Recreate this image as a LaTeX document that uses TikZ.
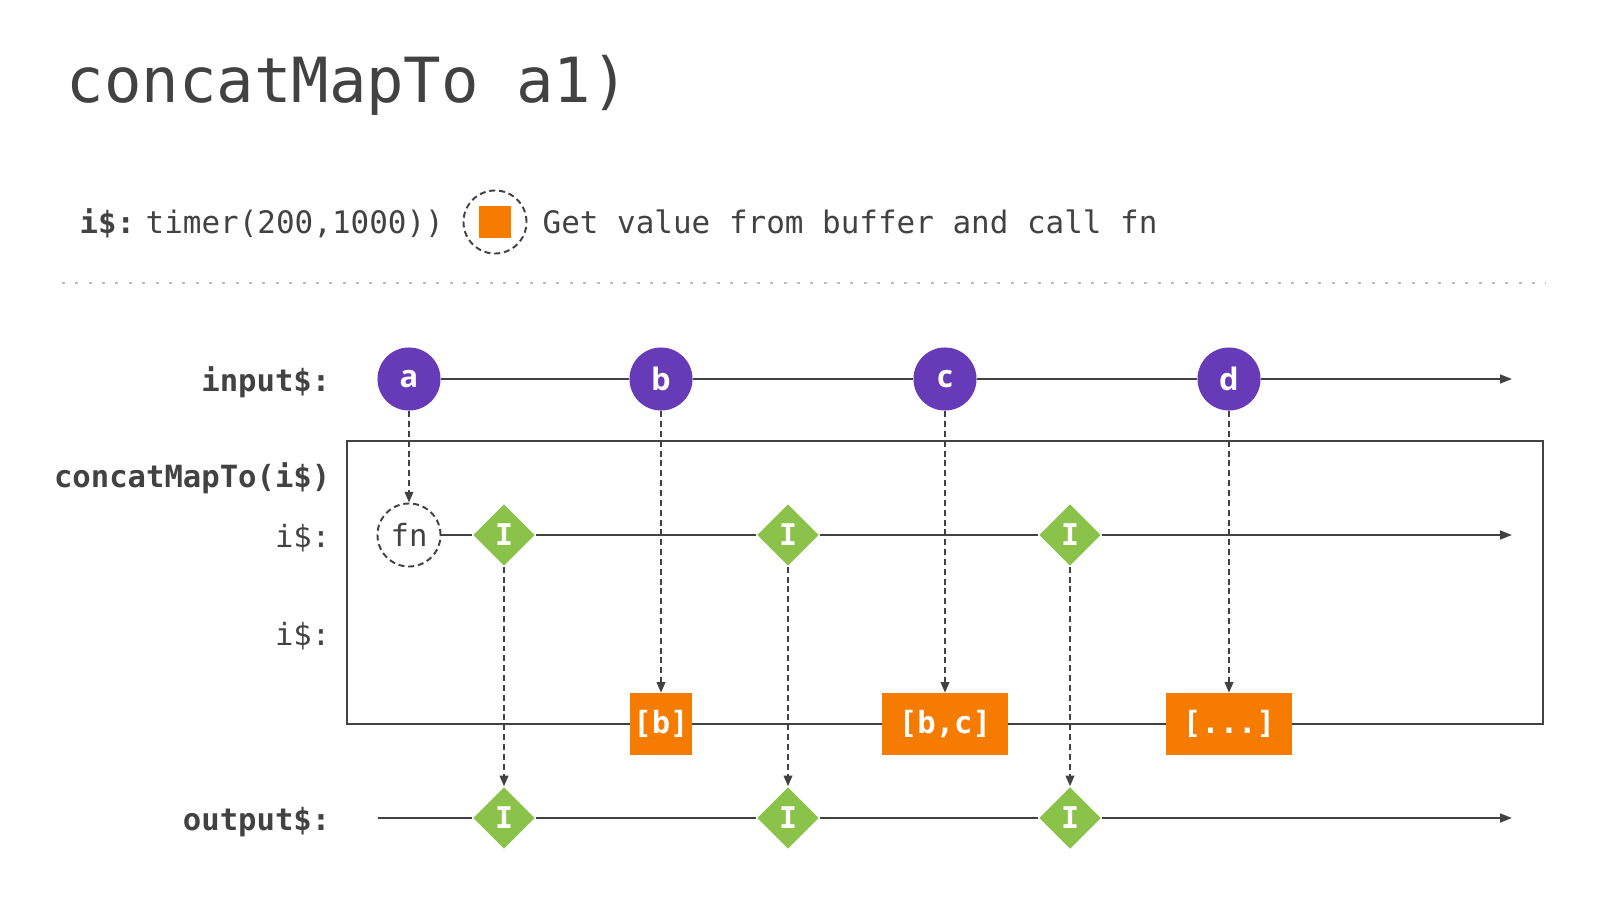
\documentclass[tikz,border=0pt]{standalone}
\usepackage{fontspec}
\setmonofont{DejaVu Sans Mono}
\newfontfamily\ballfont{Open Sans}
\usetikzlibrary{shapes.geometric,arrows.meta}
\definecolor{ink}{HTML}{424242}
\definecolor{rule}{HTML}{BDBDBD}
\definecolor{grape}{HTML}{673AB7}
\definecolor{lime}{HTML}{8BC34A}
\definecolor{amber}{HTML}{F57C00}
\tikzset{
  lane/.style={draw=ink, line width=0.55pt},
  flow/.style={lane, -{Triangle[length=3.4pt,width=2.5pt]}},
  drop/.style={draw=ink, line width=0.55pt, dash pattern=on 1.7pt off 1.1pt, -{Triangle[length=3pt,width=2.4pt]}},
  ball/.style={circle, fill=grape, minimum size=0.63cm, inner sep=0pt, text=white, font=\ballfont\bfseries\fontsize{8.8}{10}\selectfont},
  gem/.style={diamond, fill=lime, minimum size=0.62cm, inner sep=0pt, text=white, font=\ttfamily\bfseries\fontsize{8.5}{10}\selectfont},
  buf/.style={rectangle, fill=amber, minimum height=0.61cm, inner sep=0pt, text=white, font=\ttfamily\bfseries\fontsize{8.7}{10}\selectfont},
  ring/.style={circle, draw=ink, fill=white, line width=0.55pt, dash pattern=on 1.7pt off 1.1pt, minimum size=0.63cm, inner sep=0pt, text=ink, font=\ttfamily\fontsize{8.7}{10}\selectfont},
  lab/.style={text=ink, inner sep=0pt, font=\ttfamily\fontsize{8.7}{10}\selectfont},
  labb/.style={lab, font=\ttfamily\bfseries\fontsize{8.7}{10}\selectfont},
  keylab/.style={lab, font=\ttfamily\fontsize{8.8}{10}\selectfont},
}

\begin{document}
\begin{tikzpicture}[x=0.01cm, y=-0.01cm]
  \useasboundingbox (0,0) rectangle (1600,900);
  \node[lab, anchor=base west, font=\ttfamily\fontsize{17.7}{20}\selectfont] (title) at (66,102) {concatMapTo a1)};

  \node[labb, anchor=base west] (key) at (79,233) {i\$:};
  \node[keylab, anchor=base west] (timer) at (145,233) {timer(200,1000))};
  \node[ring] (keyring) at (495,222) {};
  \node[fill=amber, minimum size=0.31cm, inner sep=0pt] (keybuf) at (keyring) {};
  \node[keylab, anchor=base west] (keytext) at (542,233) {Get value from buffer and call fn};

  \coordinate (sepL) at (62,283);
  \coordinate (sepR) at (1546,283);
  \draw[rule, line width=0.85pt, dash pattern=on 0.85pt off 2.95pt] (sepL) -- (sepR);

  \node[labb, anchor=base east] (inlab) at (331,391) {input\$:};
  \node[labb, anchor=base east] (maplab) at (331,487) {concatMapTo(i\$)};
  \node[lab, anchor=base east] (ilab) at (331,547) {i\$:};
  \node[lab, anchor=base east] (jlab) at (331,645) {i\$:};
  \node[labb, anchor=base east] (outlab) at (331,830) {output\$:};

  \coordinate (frameNW) at (347,441);
  \coordinate (frameSE) at (1543,724);
  \draw[lane] (frameNW) rectangle (frameSE);

  \node[ball] (a) at (409,379) {a};
  \node[ball] (b) at (661,379) {b};
  \node[ball] (c) at (945,379) {c};
  \node[ball] (d) at (1229,379) {d};
  \coordinate (inR) at (1512,379);

  \node[ring] (fn) at (409,535) {fn};
  \node[gem] (i1) at (504,535) {I};
  \node[gem] (i2) at (788,535) {I};
  \node[gem] (i3) at (1070,535) {I};
  \coordinate (iR) at (1512,535);

  \node[buf, minimum width=0.62cm] (bb) at (661,724) {[b]};
  \node[buf, minimum width=1.26cm] (bc) at (945,724) {[b,c]};
  \node[buf, minimum width=1.26cm] (bd) at (1229,724) {[...]};

  \coordinate (outL) at (378,818);
  \node[gem] (o1) at (504,818) {I};
  \node[gem] (o2) at (788,818) {I};
  \node[gem] (o3) at (1070,818) {I};
  \coordinate (outR) at (1512,818);

  \draw[flow] (a) -- (b) -- (c) -- (d) -- (inR);
  \draw[flow] (fn) -- (i1) -- (i2) -- (i3) -- (iR);
  \draw[flow] (outL) -- (o1) -- (o2) -- (o3) -- (outR);

  \draw[drop] (a) -- (fn);
  \draw[drop] (b) -- (bb);
  \draw[drop] (c) -- (bc);
  \draw[drop] (d) -- (bd);
  \draw[drop] (i1) -- (o1);
  \draw[drop] (i2) -- (o2);
  \draw[drop] (i3) -- (o3);
\end{tikzpicture}
\end{document}
